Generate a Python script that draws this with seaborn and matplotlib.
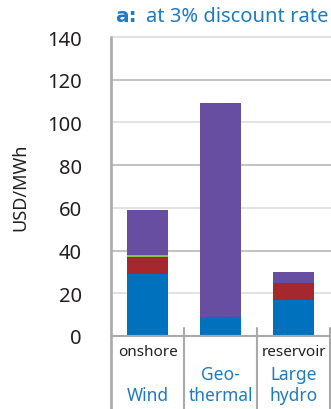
import pandas as pd
import seaborn as sns
import matplotlib.pyplot as plt
from matplotlib import transforms

# ---- data (USD/MWh) ----
categories = ["Wind", "Geothermal", "Large hydro"]
sub_labels = ["onshore", "", "reservoir"]
main_labels = ["Wind", "Geo-\nthermal", "Large\nhydro"]
blue_part = [29, 9, 17]
red_part = [8, 0, 8]
green_part = [1, 0, 0]
purple_part = [21, 100, 5]
y_ticks = [0, 20, 40, 60, 80, 100, 120, 140]

BLUE = "#0071bc"
RED = "#a5282f"
GREEN = "#8cc63f"
PURPLE = "#674ea0"
TEXT_BLUE = "#1f7bc1"
AXIS_GREY = "#a9a9a9"


def main():
    sns.set_theme(style="white")
    plt.rcParams["font.family"] = ["Noto Sans", "DejaVu Sans"]

    df = pd.DataFrame({
        "category": categories,
        "blue": blue_part,
        "red": red_part,
        "green": green_part,
        "purple": purple_part,
    })
    # cumulative tops for stacking
    df["c_blue"] = df["blue"]
    df["c_red"] = df["c_blue"] + df["red"]
    df["c_green"] = df["c_red"] + df["green"]
    df["c_purple"] = df["c_green"] + df["purple"]

    fig = plt.figure(figsize=(3.31, 4.10), dpi=100)
    ax = fig.add_axes([111 / 331, 1 - 337 / 410, 219.5 / 331, 299 / 410])

    # gridlines (alternating tone like the reference)
    for v in y_ticks[1:]:
        col = "#b3b3b3" if v % 40 == 0 else "#dadada"
        ax.axhline(v, color=col, lw=1.1, zorder=0, clip_on=False,
                   xmin=0, xmax=1.01)

    # draw stacks back to front
    for col, c in [("c_purple", PURPLE), ("c_green", GREEN),
                   ("c_red", RED), ("c_blue", BLUE)]:
        sns.barplot(data=df, x="category", y=col, order=categories,
                    color=c, saturation=1, width=0.56, linewidth=0,
                    errorbar=None, ax=ax, zorder=2)

    ax.set_xlim(-0.5, 2.5)
    ax.set_ylim(0, 140)
    ax.set_yticks(y_ticks)
    ax.set_xticks([])
    ax.set_xlabel("")
    ax.set_ylabel("USD/MWh", fontsize=13, color="#231f20", labelpad=13)
    ax.tick_params(axis="y", length=0, pad=21, labelsize=14.5,
                   labelcolor="#231f20")
    for s in ax.spines.values():
        s.set_visible(False)

    # axis lines and category separators
    tr = transforms.blended_transform_factory(ax.transData, fig.transFigure)
    ax.plot([-0.5, -0.5], [0, 1 - 38 / 410], transform=tr, color=AXIS_GREY,
            lw=1.9, clip_on=False, zorder=3)
    ax.plot([-0.5, 2.5], [0, 0], color=AXIS_GREY, lw=1.5, clip_on=False,
            zorder=3)
    for xs in [0.5, 1.5, 2.5]:
        ax.plot([xs, xs], [0, 1 - 329 / 410], transform=tr, color=AXIS_GREY,
                lw=1.5, clip_on=False, zorder=3)

    # category labels
    for i, (sub, main_lab) in enumerate(zip(sub_labels, main_labels)):
        if sub:
            ax.text(i, 1 - 353 / 410, sub, transform=tr, ha="center",
                    va="center", fontsize=11, color="#231f20")
        lines = main_lab.split("\n")
        for j, line in enumerate(reversed(lines)):
            ax.text(i, 1 - (396 - 21 * j) / 410, line, transform=tr,
                    ha="center", va="center", fontsize=12.5, color=TEXT_BLUE)

    # title
    fig.text(115 / 331, 1 - 17 / 410, "a:", ha="left", va="center",
             fontsize=14.5, fontweight="bold", color=TEXT_BLUE,
             family=["DejaVu Sans"])
    fig.text(328 / 331, 1 - 17 / 410, "at 3% discount rate", ha="right",
             va="center", fontsize=14.5, color=TEXT_BLUE)

    fig.savefig("out.png", dpi=100)
    plt.close(fig)


if __name__ == "__main__":
    main()
